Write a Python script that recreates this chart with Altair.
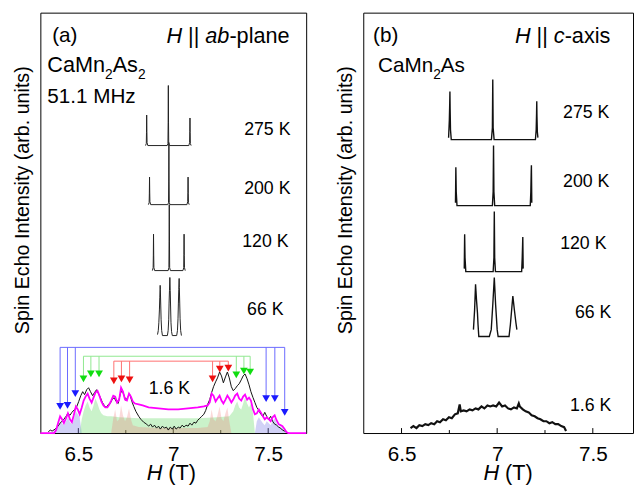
import altair as alt
import pandas as pd

FONT = "Liberation Sans"

# ---------------- panel (a) : H || ab-plane ----------------
a275_H = [6.854, 6.858, 6.859, 6.860, 6.861, 6.862, 6.866, 6.968, 6.972, 6.973, 6.974, 6.975, 6.976, 6.980,
          7.082, 7.086, 7.087, 7.088, 7.089, 7.090, 7.094]
a275_I = [292, 294, 305, 323, 306, 295, 292, 292, 294, 315, 353, 315, 294, 292,
          292, 295, 306, 320, 305, 294, 292]
a200_H = [6.869, 6.873, 6.874, 6.875, 6.876, 6.877, 6.881, 6.971, 6.975, 6.976, 6.977, 6.978, 6.979, 6.983,
          7.072, 7.076, 7.077, 7.078, 7.079, 7.080, 7.084]
a200_I = [232, 234, 243, 260, 244, 235, 232, 232, 234, 255, 295, 255, 234, 232,
          232, 235, 244, 260, 243, 234, 232]
a120_H = [6.890, 6.894, 6.895, 6.896, 6.897, 6.898, 6.902, 6.973, 6.977, 6.978, 6.979, 6.980, 6.981, 6.985,
          7.051, 7.055, 7.056, 7.057, 7.058, 7.059, 7.063]
a120_I = [165, 168, 180, 202, 181, 168, 165, 165, 168, 195, 232, 195, 168, 165,
          165, 168, 181, 202, 180, 168, 165]
a66_H = [6.917, 6.921, 6.924, 6.927, 6.929, 6.931, 6.932, 6.934, 6.936, 6.939, 6.943,
         6.969, 6.973, 6.976, 6.978, 6.980, 6.982, 6.984, 6.986, 6.988, 6.991, 6.995,
         7.018, 7.022, 7.025, 7.027, 7.029, 7.031, 7.032, 7.034, 7.036, 7.039, 7.043]
a66_I = [100, 104, 112, 125, 138, 150, 146, 130, 115, 104, 99,
         99, 104, 115, 132, 145, 158, 145, 128, 112, 103, 99,
         99, 104, 116, 132, 146, 157, 148, 132, 116, 104, 99]

# 1.6 K measured spectrum
exp_H = [6.341, 6.352, 6.362, 6.378, 6.393, 6.404, 6.414, 6.424, 6.435, 6.445,
         6.456, 6.466, 6.481, 6.492, 6.502, 6.513, 6.523, 6.533, 6.544, 6.554,
         6.564, 6.575, 6.585, 6.596, 6.606, 6.616, 6.627, 6.637, 6.647, 6.658,
         6.668, 6.678, 6.689, 6.699, 6.710, 6.720, 6.730, 6.741, 6.751, 6.761,
         6.772, 6.782, 6.792, 6.803, 6.818, 6.829, 6.844, 6.860, 6.870, 6.881,
         6.891, 6.901, 6.912, 6.922, 6.932, 6.943, 6.953, 6.964, 6.974, 6.984,
         6.995, 7.005, 7.015, 7.026, 7.036, 7.047, 7.057, 7.067, 7.078, 7.088,
         7.098, 7.109, 7.119, 7.129, 7.140, 7.150, 7.161, 7.171, 7.181, 7.192,
         7.202, 7.212, 7.223, 7.233, 7.244, 7.254, 7.264, 7.275, 7.285, 7.295,
         7.306, 7.316, 7.326, 7.337, 7.347, 7.358, 7.368, 7.378, 7.389, 7.399,
         7.409, 7.420, 7.430, 7.440, 7.451, 7.461, 7.472, 7.482, 7.492, 7.503,
         7.513, 7.523, 7.534, 7.544, 7.555, 7.565, 7.575, 7.586, 7.596]
exp_I = [1, 3, 2, 4, 7, 10, 12, 14, 17, 20,
         18, 21, 24, 27, 32, 38, 42, 39, 44, 46,
         42, 38, 41, 44, 40, 36, 31, 28, 26, 29,
         30, 34, 36, 32, 30, 39, 44, 38, 33, 37,
         39, 32, 27, 22, 17, 14, 11, 9, 7, 9,
         6, 8, 5, 7, 4, 7, 5, 6, 3, 6,
         4, 7, 4, 6, 5, 8, 6, 8, 7, 10,
         8, 11, 10, 13, 15, 17, 19, 23, 29, 34,
         41, 47, 52, 56, 62, 58, 51, 57, 62, 56,
         47, 43, 45, 48, 50, 54, 58, 60, 55, 49,
         42, 36, 31, 26, 23, 19, 17, 21, 17, 14,
         17, 12, 9, 8, 6, 5, 3, 2, 1]

# 1.6 K simulated total (magenta)
sim_H = [6.300, 6.373, 6.383, 6.393, 6.404, 6.414, 6.424, 6.435, 6.445, 6.456,
         6.466, 6.476, 6.487, 6.497, 6.507, 6.518, 6.528, 6.538, 6.549, 6.559,
         6.570, 6.580, 6.590, 6.601, 6.611, 6.621, 6.632, 6.642, 6.653, 6.663,
         6.673, 6.684, 6.694, 6.704, 6.715, 6.725, 6.735, 6.746, 6.756, 6.767,
         6.777, 6.787, 6.798, 6.818, 6.839, 6.870, 6.922, 6.974, 7.026, 7.078,
         7.129, 7.161, 7.181, 7.192, 7.202, 7.212, 7.223, 7.233, 7.244, 7.254,
         7.264, 7.275, 7.285, 7.295, 7.306, 7.316, 7.326, 7.337, 7.347, 7.358,
         7.368, 7.378, 7.389, 7.399, 7.409, 7.420, 7.430, 7.440, 7.451, 7.461,
         7.472, 7.482, 7.492, 7.503, 7.513, 7.523, 7.534, 7.544, 7.555, 7.565,
         7.575, 7.586, 7.596, 7.606, 7.700]
sim_I = [0, 0, 3, 10, 17, 14, 10, 15, 20, 14,
         11, 18, 27, 24, 19, 26, 33, 37, 40, 35,
         31, 36, 41, 43, 38, 32, 28, 26, 26, 29,
         33, 38, 37, 31, 34, 46, 42, 34, 33, 40,
         37, 32, 30, 29, 28, 26, 25, 24, 24, 25,
         26, 27, 28, 31, 40, 38, 32, 35, 38, 33,
         30, 34, 38, 35, 31, 34, 38, 40, 35, 33,
         37, 39, 34, 36, 33, 24, 19, 20, 24, 21,
         17, 14, 16, 14, 12, 16, 18, 13, 9, 8,
         7, 4, 1, 0, 0]

# simulated components (shaded)
blueL_H = [6.352, 6.373, 6.393, 6.404, 6.414, 6.424, 6.435, 6.445, 6.456, 6.466, 6.476, 6.487, 6.497, 6.507, 6.518]
blueL_I = [0, 2, 7, 12, 10, 8, 12, 16, 11, 9, 14, 22, 19, 16, 0]
blueR_H = [7.430, 7.440, 7.451, 7.461, 7.472, 7.482, 7.492, 7.503, 7.513, 7.523, 7.534, 7.544, 7.555, 7.565,
           7.575, 7.586, 7.596]
blueR_I = [0, 12, 16, 13, 10, 8, 12, 10, 8, 12, 15, 10, 7, 6, 5, 3, 0]
green_H = [6.507, 6.518, 6.528, 6.538, 6.549, 6.559, 6.570, 6.580, 6.590, 6.601, 6.611, 6.621, 6.632, 6.653,
           6.673, 6.715, 6.818, 6.922, 7.026, 7.129, 7.233, 7.295, 7.316, 7.326, 7.337, 7.347, 7.358, 7.368,
           7.378, 7.389, 7.399, 7.409, 7.420, 7.430]
green_I = [0, 14, 22, 28, 32, 26, 22, 28, 35, 30, 24, 20, 18, 17,
           17, 16, 15, 15, 15, 15, 16, 17, 22, 28, 32, 26, 24, 30,
           36, 30, 26, 30, 20, 0]
red_H = [6.673, 6.684, 6.694, 6.704, 6.715, 6.725, 6.735, 6.746, 6.756, 6.767, 6.777, 6.787, 6.818, 6.922,
         7.026, 7.129, 7.181, 7.192, 7.202, 7.212, 7.223, 7.233, 7.244, 7.254, 7.264, 7.275, 7.285, 7.295, 7.306]
red_I = [0, 15, 24, 12, 14, 28, 18, 12, 16, 25, 14, 8, 6, 5,
         5, 5, 6, 12, 24, 14, 12, 18, 27, 15, 12, 20, 26, 12, 0]

# arrow positions (field) and arrow-head heights, bracket heights
arrB_H = [6.404, 6.443, 6.484, 7.489, 7.535, 7.587]
arrB_I = [27, 28, 40, 35, 35, 21]
arrG_H = [6.527, 6.566, 6.609, 7.332, 7.372, 7.405]
arrG_I = [55, 60, 60, 59, 63, 62]
arrR_H = [6.687, 6.727, 6.770, 7.207, 7.245, 7.290]
arrR_I = [53, 55, 54, 55, 65, 66]
bracket_top = {"blue": 87, "green": 78, "red": 73}

# ---------------- panel (b) : H || c-axis ----------------
b275_H = [6.746, 6.750, 6.752, 6.753, 6.754, 6.756, 6.760, 6.970, 6.975, 6.977, 6.979, 6.984,
          7.200, 7.204, 7.206, 7.207, 7.208, 7.210, 7.213]
b275_I = [300, 318, 335, 347, 330, 308, 298, 298, 310, 359, 310, 298,
          298, 308, 325, 337, 322, 306, 300]
b200_H = [6.782, 6.783, 6.784, 6.786, 6.790, 6.975, 6.979, 6.981, 6.983, 6.987, 7.173, 7.176, 7.178, 7.179, 7.181]
b200_I = [234, 250, 270, 245, 231, 231, 245, 292, 245, 231, 231, 245, 265, 272, 234]
b120_H = [6.828, 6.829, 6.830, 6.832, 6.836, 6.979, 6.983, 6.985, 6.987, 6.991, 7.128, 7.131, 7.133, 7.134, 7.136]
b120_I = [167, 185, 202, 178, 164, 164, 178, 225, 178, 164, 164, 178, 192, 199, 167]
b66_H = [6.876, 6.882, 6.887, 6.892, 6.897, 6.900, 6.904, 6.959, 6.969, 6.977, 6.985, 6.992, 7.000, 7.005,
         7.062, 7.069, 7.077, 7.082, 7.090, 7.098, 7.103]
b66_I = [105, 125, 151, 135, 122, 110, 98, 98, 105, 130, 158, 130, 105, 98,
         98, 110, 128, 139, 125, 112, 105]
b16_H = [6.547, 6.562, 6.578, 6.593, 6.609, 6.624, 6.640, 6.655, 6.671, 6.686,
         6.701, 6.717, 6.732, 6.748, 6.763, 6.779, 6.794, 6.804, 6.810, 6.825,
         6.840, 6.856, 6.871, 6.887, 6.902, 6.918, 6.933, 6.949, 6.964, 6.979,
         6.995, 7.010, 7.026, 7.041, 7.057, 7.072, 7.088, 7.103, 7.113, 7.118,
         7.134, 7.149, 7.165, 7.180, 7.196, 7.211, 7.226, 7.242, 7.257, 7.273,
         7.288, 7.304, 7.319, 7.335, 7.350, 7.360]
b16_I = [5, 7, 5, 8, 7, 9, 8, 10, 9, 12,
         11, 14, 13, 16, 15, 19, 20, 29, 22, 23,
         22, 24, 23, 25, 24, 27, 25, 28, 27, 28,
         27, 31, 27, 28, 25, 24, 26, 25, 30, 27,
         24, 22, 21, 18, 17, 15, 14, 12, 12, 10,
         11, 9, 9, 7, 6, 2]

major_ticks = [6.5, 7.0, 7.5]
minor_ticks = [6.75, 7.25]

# ---------------- helpers ----------------
W = {' ': 278, '|': 260, '(': 333, ')': 333, '-': 333, '.': 278, 'H': 722, 'T': 611, 'C': 722, 'M': 833,
     'A': 667, 'K': 667, 'a': 556, 'b': 556, 'c': 500, 'e': 556, 'i': 222, 'l': 222, 'n': 556, 'p': 556,
     's': 500, 'x': 500, 'z': 500}


def tw(s, size):
    return sum(W.get(ch, 556) for ch in s) * size / 1000.0


PW_A, PW_B, PH = 270, 274, 427
xs_a = alt.Scale(domain=[6.3, 7.7], nice=False, zero=False)
xs_b = alt.Scale(domain=[6.3, 6.3 + 274 / 194.3], nice=False, zero=False)
ys = alt.Scale(domain=[0, 427], nice=False, zero=False)
x_axis = alt.Axis(values=major_ticks, format="~g", title=None, ticks=False, domain=False, grid=False,
                  labelFontSize=21, labelPadding=11, labelColor="black", labelFont=FONT, labelFlush=False)
y_axis = alt.Axis(title="Spin Echo Intensity (arb. units)", labels=False, ticks=False, domain=False,
                  grid=False, titlePadding=8, titleFontSize=20, titleFontWeight="normal",
                  titleColor="black", titleFont=FONT, titleY=190)
ONE = pd.DataFrame({"k": [0]})


def make_panel(xs):
    def enc_xy():
        return dict(x=alt.X("H:Q", scale=xs, axis=x_axis), y=alt.Y("I:Q", scale=ys, axis=y_axis))

    def line(H, I, color, width):
        df = pd.DataFrame({"H": H, "I": I, "i": list(range(len(H)))})
        return alt.Chart(df).mark_line(color=color, strokeWidth=width).encode(order="i:Q", **enc_xy())

    def area(H, I, color, op):
        df = pd.DataFrame({"H": H, "I": I})
        return alt.Chart(df).mark_area(color=color, opacity=op).encode(**enc_xy())

    def ticks_layer():
        d1 = pd.DataFrame({"H": major_ticks})
        d2 = pd.DataFrame({"H": minor_ticks})
        t1 = alt.Chart(d1).mark_rule(color="black", strokeWidth=1).encode(
            x=alt.X("H:Q", scale=xs, axis=x_axis), y=alt.value(PH), y2=alt.value(PH - 5))
        t2 = alt.Chart(d2).mark_rule(color="black", strokeWidth=1).encode(
            x=alt.X("H:Q", scale=xs, axis=x_axis), y=alt.value(PH), y2=alt.value(PH - 3))
        return [t1, t2]

    def arrows(H, I, top, line_col, head_col):
        df = pd.DataFrame({"H": H, "I": I, "top": [top] * len(H)})
        v = alt.Chart(df).mark_rule(color=line_col, strokeWidth=1).encode(
            x=alt.X("H:Q", scale=xs, axis=x_axis), y=alt.Y("I:Q", scale=ys, axis=y_axis), y2="top:Q")
        hd = pd.DataFrame({"H": [min(H)], "H2": [max(H)], "I": [top]})
        h = alt.Chart(hd).mark_rule(color=line_col, strokeWidth=1).encode(
            x=alt.X("H:Q", scale=xs, axis=x_axis), x2="H2:Q", y=alt.Y("I:Q", scale=ys, axis=y_axis))
        p = alt.Chart(df).mark_point(shape="triangle-down", filled=True, size=62, opacity=1,
                                     color=head_col).encode(**enc_xy())
        return [v, h, p]

    return line, area, ticks_layer, arrows


def label(s, x, y, size, italic=False):
    return alt.Chart(ONE).mark_text(text=s, font=FONT, fontSize=size,
                                    fontStyle="italic" if italic else "normal",
                                    align="left", baseline="alphabetic", color="black").encode(
        x=alt.value(x), y=alt.value(y))


def run(parts, x, y):
    out = []
    for s, size, italic, dy in parts:
        lead = len(s) - len(s.lstrip(" "))
        core = s.strip(" ")
        trail = len(s) - lead - len(core)
        x += lead * 278 * size / 1000.0
        out.append(label(core, x, y + dy, size, italic))
        x += tw(core, size) + trail * 278 * size / 1000.0
    return out


# ---------------- panel (a) ----------------
line, area, ticks_layer, arrows = make_panel(xs_a)
layers_a = []
layers_a += ticks_layer()
layers_a.append(area(blueL_H, blueL_I, "#7b7be6", 0.35))
layers_a.append(area(blueR_H, blueR_I, "#7b7be6", 0.35))
layers_a.append(area(green_H, green_I, "#66d966", 0.35))
layers_a.append(area(red_H, red_I, "#f07878", 0.28))
layers_a.append(line(exp_H, exp_I, "#111111", 1))
layers_a.append(line(sim_H, sim_I, "#ff00ff", 1.8))
layers_a += arrows(arrB_H, arrB_I, bracket_top["blue"], "#6a6aff", "#1a1aff")
layers_a += arrows(arrG_H, arrG_I, bracket_top["green"], "#8fe88f", "#10dd10")
layers_a += arrows(arrR_H, arrR_I, bracket_top["red"], "#ff7070", "#ee1010")
for H, I in [(a275_H, a275_I), (a200_H, a200_I), (a120_H, a120_I), (a66_H, a66_I)]:
    layers_a.append(line(H, I, "#222222", 1))

layers_a.append(label("(a)", 12, 30, 21))
layers_a += run([("H", 22, True, 0), (" || ", 22, False, 0), ("ab", 22, True, 0), ("-plane", 22, False, 0)], 128, 31)
layers_a += run([("CaMn", 22, False, 0), ("2", 14, False, 7), ("As", 22, False, 0), ("2", 14, False, 7)], 7, 60)
layers_a.append(label("51.1 MHz", 7, 92, 21))
for s, x, y in [("275 K", 207, 124), ("200 K", 207, 184), ("120 K", 205, 238), ("66 K", 210, 307), ("1.6 K", 110, 387)]:
    layers_a.append(label(s, x, y, 18))
layers_a += run([("H", 22, True, 0), (" (T)", 22, False, 0)], 108, 475)

panel_a = alt.layer(*layers_a).properties(width=PW_A, height=PH)

# ---------------- panel (b) ----------------
line, area, ticks_layer, arrows = make_panel(xs_b)
layers_b = []
layers_b += ticks_layer()
for H, I in [(b275_H, b275_I), (b200_H, b200_I), (b120_H, b120_I), (b66_H, b66_I)]:
    layers_b.append(line(H, I, "#111111", 1.4))
layers_b.append(line(b16_H, b16_I, "#111111", 2.2))
layers_b.append(label("(b)", 10, 30, 21))
layers_b += run([("H", 22, True, 0), (" || ", 22, False, 0), ("c", 22, True, 0), ("-axis", 22, False, 0)], 154, 31)
layers_b += run([("CaMn", 21, False, 0), ("2", 14, False, 7), ("As", 21, False, 0)], 15, 60)
for s, x, y in [("275 K", 203, 107), ("200 K", 203, 177), ("120 K", 200, 240), ("66 K", 215, 310), ("1.6 K", 210, 405)]:
    layers_b.append(label(s, x, y, 18))
layers_b += run([("H", 22, True, 0), (" (T)", 22, False, 0)], 122, 475)

panel_b = alt.layer(*layers_b).properties(width=PW_B, height=PH)

chart = alt.hconcat(panel_a, panel_b, spacing=24).properties(
    padding={"left": 12, "top": 8, "right": 0, "bottom": 0}
).configure_view(stroke="black", strokeWidth=1)

chart.save("out.html", embed_options={"renderer": "svg", "actions": False})
